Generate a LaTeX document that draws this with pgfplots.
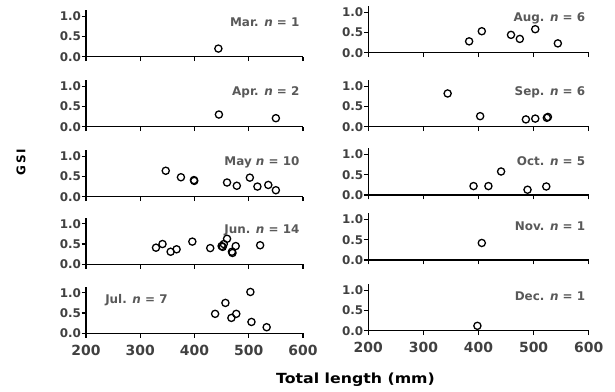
\documentclass[border=0pt]{standalone}
\usepackage{fontspec}
\setmainfont{DejaVu Sans}
\usepackage{graphicx}
\usepackage{pgfplots}
\pgfplotsset{compat=1.18}
\definecolor{tickgray}{HTML}{404040}
\definecolor{labgray}{HTML}{595959}
\pgfplotsset{
  panel/.style={
    scale only axis, anchor=south west, clip=false,
    xmin=200, xmax=600, ymin=0, ymax=1.15,
    axis x line=bottom, axis y line=left,
    axis line style={-, line width=1.1bp, black},
    xtick={200,300,400,500,600}, ytick={0,0.5,1},
    tick align=outside, major tick length=4.5bp,
    tick style={black, line width=1.1bp},
    /pgf/number format/assume math mode=true,
    y tick label style={font=\fontsize{12}{13}\selectfont\bfseries, text=tickgray, xshift=3bp,
      /pgf/number format/.cd, fixed, fixed zerofill, precision=1},
    x tick label style={font=\fontsize{14}{15}\selectfont\bfseries, text=tickgray, yshift=-3.5bp},
    height=46.6bp,
  },
  pt/.style={only marks, mark=o, draw=black,
      mark options={solid, fill=white, draw=black, line width=1.3bp}, mark size=3.6bp},
  lcol/.style={panel, width=217bp},
  rcol/.style={panel, width=220.4bp},
  nox/.style={xticklabels={}},
}
\newcommand{\lab}[1]{\fontsize{12}{13}\selectfont\bfseries #1}
\begin{document}
\begin{tikzpicture}
\useasboundingbox (0,0) rectangle (615bp,392bp);
% ---------------- left column
\begin{axis}[lcol, nox, at={(86bp,335.3bp)}]
\addplot[pt] coordinates {(444,0.20)};
\node[anchor=east, text=labgray] at (axis cs:600,0.84) {\lab{Mar. \textit{n} = 1}};
\end{axis}
\begin{axis}[lcol, nox, at={(86bp,265.3bp)}]
\addplot[pt] coordinates {(445,0.30) (550,0.21)};
\node[anchor=east, text=labgray] at (axis cs:600,0.84) {\lab{Apr. \textit{n} = 2}};
\end{axis}
\begin{axis}[lcol, nox, at={(86bp,195.3bp)}]
\addplot[pt] coordinates {(347,0.64) (375,0.48) (399,0.41) (399.5,0.39) (460,0.35) (478,0.27) (502,0.47) (516,0.25) (536,0.29) (550,0.16)};
\node[anchor=east, text=labgray] at (axis cs:600,0.84) {\lab{May \textit{n} = 10}};
\end{axis}
\begin{axis}[lcol, nox, at={(86bp,127.7bp)}]
\addplot[pt] coordinates {(329,0.41) (341,0.50) (356,0.31) (367,0.37) (396,0.56) (429,0.40) (450,0.45) (452,0.43) (454,0.50) (460,0.63) (469,0.31) (470,0.28) (476,0.45) (521,0.47)};
\node[anchor=east, text=labgray] at (axis cs:600,0.84) {\lab{Jun. \textit{n} = 14}};
\end{axis}
\begin{axis}[lcol, at={(86bp,58.7bp)}]
\addplot[pt] coordinates {(438,0.48) (457,0.75) (468,0.38) (477,0.48) (503,1.02) (505,0.28) (533,0.15)};
\node[anchor=west, text=labgray] at (axis cs:229,0.81) {\lab{Jul. \textit{n} = 7}};
\end{axis}
% ---------------- right column
\begin{axis}[rcol, nox, at={(368.3bp,339.3bp)}]
\addplot[pt] coordinates {(383,0.28) (406,0.53) (459,0.44) (475,0.34) (503,0.58) (544,0.23)};
\node[anchor=east, text=labgray] at (axis cs:600,0.84) {\lab{Aug. \textit{n} = 6}};
\end{axis}
\begin{axis}[rcol, nox, at={(368.3bp,265.3bp)}]
\addplot[pt] coordinates {(344,0.82) (403,0.26) (486,0.18) (503,0.20) (524,0.22) (526,0.24)};
\node[anchor=east, text=labgray] at (axis cs:600,0.84) {\lab{Sep. \textit{n} = 6}};
\end{axis}
\begin{axis}[rcol, nox, at={(368.3bp,197bp)}]
\addplot[pt] coordinates {(391,0.22) (418,0.22) (441,0.58) (489,0.13) (523,0.21)};
\node[anchor=east, text=labgray] at (axis cs:600,0.84) {\lab{Oct. \textit{n} = 5}};
\end{axis}
\begin{axis}[rcol, nox, at={(368.3bp,132bp)}]
\addplot[pt] coordinates {(406,0.42)};
\node[anchor=east, text=labgray] at (axis cs:600,0.84) {\lab{Nov. \textit{n} = 1}};
\end{axis}
\begin{axis}[rcol, at={(368.3bp,61.3bp)}]
\addplot[pt] coordinates {(398,0.12)};
\node[anchor=east, text=labgray] at (axis cs:600,0.84) {\lab{Dec. \textit{n} = 1}};
\end{axis}
% ---------------- shared labels
\node[rotate=90, font=\fontsize{12}{13}\selectfont\bfseries] at (21bp,230bp) {G\,S\,I};
\node[font=\fontsize{14}{15}\selectfont\bfseries] at (355.5bp,12bp) {\scalebox{1.13}[1]{Total length (mm)}};
\end{tikzpicture}
\end{document}
